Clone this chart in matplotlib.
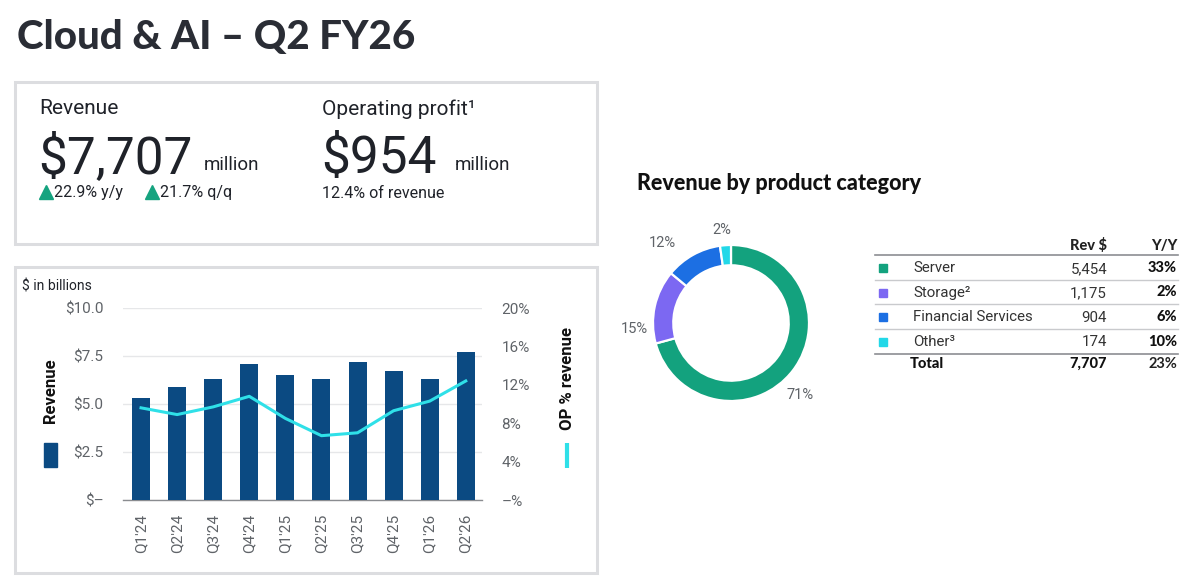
import matplotlib
matplotlib.use("Agg")
import matplotlib.pyplot as plt
from matplotlib.patches import Rectangle
import numpy as np

# ---------------- data ----------------
quarters = ["Q1'24", "Q2'24", "Q3'24", "Q4'24", "Q1'25", "Q2'25", "Q3'25", "Q4'25", "Q1'26", "Q2'26"]
revenue_bn = [5.3, 5.9, 6.3, 7.1, 6.5, 6.3, 7.2, 6.7, 6.3, 7.7]
op_pct = [9.6, 8.9, 9.7, 10.8, 8.5, 6.7, 7.0, 9.3, 10.3, 12.4]
left_ticks = [0, 2.5, 5.0, 7.5, 10.0]
left_tick_labels = ["$\u2013", "$2.5", "$5.0", "$7.5", "$10.0"]
right_ticks = [0, 4, 8, 12, 16, 20]
right_tick_labels = ["\u2013%", "4%", "8%", "12%", "16%", "20%"]

categories = ["Server", "Storage\u00b2", "Financial Services", "Other\u00b3"]
cat_rev = [5454, 1175, 904, 174]
cat_yoy = ["33%", "2%", "6%", "10%"]
total_rev = "7,707"
total_yoy = "23%"

headline_rev = "$7,707"
headline_op = "$954"
rev_yoy = "22.9% y/y"
rev_qoq = "21.7% q/q"
op_margin = "12.4% of revenue"

# ---------------- style ----------------
BAR = "#0b4a82"
LINE = "#2fe0e8"
CAT_COLORS = ["#13a27e", "#7c68f2", "#1c6fe3", "#22d8e8"]
DARK = "#1f2229"
GRAY = "#5f6368"
BOX = "#dcdde0"
BODY = "Roboto"
HEAVY = "Lato"

W, H = 1200, 586
fig = plt.figure(figsize=(W / 100, H / 100), dpi=100)
fig.patch.set_facecolor("white")

# overlay in pixel coordinates
bg = fig.add_axes([0, 0, 1, 1], zorder=0)
bg.set_xlim(0, W)
bg.set_ylim(H, 0)
bg.axis("off")

def rect_px(x0, y0, x1, y1):
    return [x0 / W, 1 - y1 / H, (x1 - x0) / W, (y1 - y0) / H]

# title
bg.text(17, 37, "Cloud & AI \u2013 Q2 FY26", fontsize=29, fontweight="black",
        family=HEAVY, color="#2a2d35", va="center", ha="left")

# boxes
for (x0, y0, x1, y1) in [(15, 82, 597, 244), (15, 267, 597, 573)]:
    bg.add_patch(Rectangle((x0, y0), x1 - x0, y1 - y0, fill=False,
                           edgecolor=BOX, linewidth=2.2))

# KPI box
bg.text(39, 109, "Revenue", fontsize=15, family=BODY, color=DARK, va="center")
bg.text(38, 173, headline_rev, fontsize=37, family=BODY, fontweight="normal",
        color=DARK, va="baseline")
bg.text(204, 170, "million", fontsize=13.5, family=BODY, color=DARK, va="baseline")
bg.plot([46], [192], marker="^", color="#15a37f", markersize=9.5, linestyle="none")
bg.text(54, 193, rev_yoy, fontsize=11.5, family=BODY, color=DARK, va="center")
bg.plot([152], [192], marker="^", color="#15a37f", markersize=9.5, linestyle="none")
bg.text(160, 193, rev_qoq, fontsize=11.5, family=BODY, color=DARK, va="center")

bg.text(322, 109, "Operating profit\u00b9", fontsize=15, family=BODY, color=DARK, va="center")
bg.text(321, 173, headline_op, fontsize=37, family=BODY, fontweight="normal",
        color=DARK, va="baseline")
bg.text(455, 170, "million", fontsize=13.5, family=BODY, color=DARK, va="baseline")
bg.text(322, 193, op_margin, fontsize=11.5, family=BODY, color=DARK, va="center")

# ---------------- bar chart ----------------
bg.text(22, 286, "$ in billions", fontsize=10, family=BODY, color=DARK, va="center")
ax = fig.add_axes(rect_px(123, 308, 482, 500), zorder=2)
ax.set_facecolor("none")
x = np.arange(len(quarters))
ax.bar(x, revenue_bn, width=0.5, color=BAR, zorder=3)
ax.set_xlim(-0.5, 9.45)
ax.set_ylim(0, 10)
ax.set_yticks(left_ticks)
ax.set_yticklabels(left_tick_labels)
ax.set_xticks(x)
ax.set_xticklabels(quarters, rotation=90)
for s in ["top", "right", "left"]:
    ax.spines[s].set_visible(False)
ax.spines["bottom"].set_color("#8a8c90")
ax.spines["bottom"].set_linewidth(1.0)
ax.grid(axis="y", color="#e6e7e9", linewidth=1.0, zorder=0)
ax.set_axisbelow(True)
ax.tick_params(axis="both", length=0, colors=GRAY, labelsize=11)
ax.tick_params(axis="y", pad=14)
ax.tick_params(axis="x", pad=10)
for lbl in ax.get_xticklabels() + ax.get_yticklabels():
    lbl.set_family(BODY)
    lbl.set_color(GRAY)

ax2 = ax.twinx()
ax2.set_facecolor("none")
ax2.plot(x, op_pct, color=LINE, linewidth=2.2, zorder=4)
ax2.set_ylim(0, 20)
ax2.set_yticks(right_ticks)
ax2.set_yticklabels(right_tick_labels)
for s in ["top", "right", "left", "bottom"]:
    ax2.spines[s].set_visible(False)
ax2.tick_params(axis="y", length=0, colors=GRAY, labelsize=11, pad=14)
for lbl in ax2.get_yticklabels():
    lbl.set_family(BODY)
    lbl.set_color(GRAY)

# axis legends
bg.text(50, 391, "Revenue", rotation=90, fontsize=12, fontweight="bold",
        family=BODY, color="#111111", va="center", ha="center")
bg.add_patch(Rectangle((44, 443), 13, 24, color=BAR))
bg.text(567, 379, "OP % revenue", rotation=90, fontsize=12, fontweight="bold",
        family=BODY, color="#111111", va="center", ha="center")
bg.plot([567, 567], [443, 468], color=LINE, linewidth=3, solid_capstyle="butt")

# ---------------- donut ----------------
bg.text(637, 183, "Revenue by product category", fontsize=15.5, fontweight="black",
        family=HEAVY, color="#111111", va="center")
cx, cy, r = 731, 323, 78
axp = fig.add_axes(rect_px(cx - r, cy - r, cx + r, cy + r), zorder=2)
axp.set_facecolor("none")
total = sum(cat_rev)
pct_labels = [f"{v / total * 100:.0f}%" for v in cat_rev]
wedges, texts = axp.pie(cat_rev, colors=CAT_COLORS, startangle=90, counterclock=False,
                        radius=1.0, labels=pct_labels, labeldistance=1.27,
                        wedgeprops=dict(width=0.26, edgecolor="white", linewidth=1.6),
                        textprops=dict(fontsize=10.5, family=BODY, color=GRAY))
# label placement offsets (pixel offset from donut centre), as in the reference
label_offsets = [(69, 72), (-97, 6), (-69, -80), (-9, -93)]
for t, (dx, dy) in zip(texts, label_offsets):
    t.set_position((dx / r, -dy / r))
    t.set_ha("center")
    t.set_va("center")
axp.set_xlim(-1, 1)
axp.set_ylim(-1, 1)
axp.set_aspect("equal")
axp.axis("off")

# ---------------- table ----------------
tx0, tx1 = 875, 1178
rev_r, yoy_r = 1107, 1177
bg.text(rev_r, 246, "Rev $", fontsize=10.5, fontweight="black", family=HEAVY,
        color="#222222", ha="right", va="center")
bg.text(yoy_r, 246, "Y/Y", fontsize=10.5, fontweight="black", family=HEAVY,
        color="#222222", ha="right", va="center")
bg.plot([tx0, tx1], [254.5, 254.5], color="#8c8e92", linewidth=1.2)
row_y = [268, 292.5, 317, 341.5]
sep_y = [279.5, 304, 329, 354]
for i, (name, v, yy) in enumerate(zip(categories, cat_rev, cat_yoy)):
    yc = row_y[i]
    bg.add_patch(Rectangle((878.5, yc - 4), 8, 8, color=CAT_COLORS[i]))
    bg.text(913, yc, name, fontsize=10.8, family=BODY, color="#333333", va="center")
    bg.text(rev_r, yc + 1, f"{v:,}", fontsize=10.8, family=BODY, color="#333333",
            ha="right", va="center")
    bg.text(yoy_r, yc, yy, fontsize=10.5, fontweight="black", family=HEAVY,
            color="#111111", ha="right", va="center")
    last = i == len(categories) - 1
    bg.plot([tx0, tx1], [sep_y[i], sep_y[i]], color="#8c8e92" if last else "#c9cacd",
            linewidth=1.2 if last else 1.0)
bg.text(910, 364, "Total", fontsize=10.5, fontweight="black", family=HEAVY,
        color="#111111", va="center")
bg.text(rev_r, 364, total_rev, fontsize=10.5, fontweight="black", family=HEAVY,
        color="#111111", ha="right", va="center")
bg.text(yoy_r, 364, total_yoy, fontsize=10.5, fontweight="bold", family=HEAVY,
        color="#222222", ha="right", va="center")

fig.savefig("out.png", dpi=100, facecolor="white")
